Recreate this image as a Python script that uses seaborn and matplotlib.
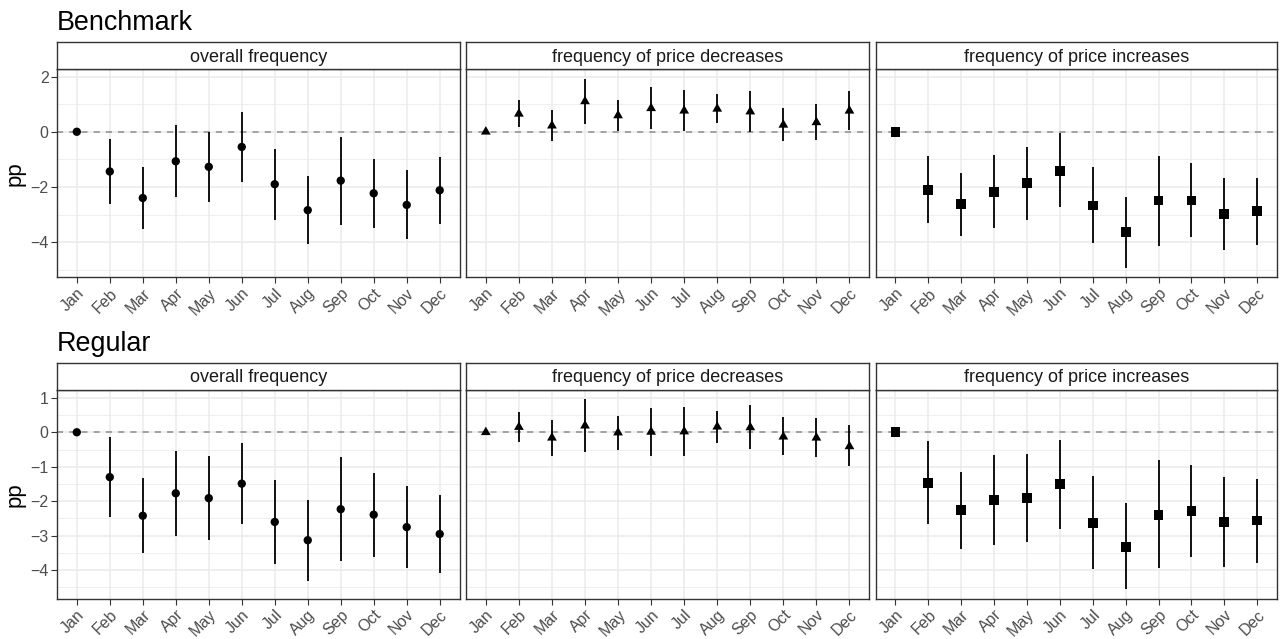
import numpy as np
import pandas as pd
import matplotlib
matplotlib.use("Agg")
import matplotlib.pyplot as plt
from matplotlib.ticker import MultipleLocator, FixedLocator
import seaborn as sns

months = ["Jan", "Feb", "Mar", "Apr", "May", "Jun",
          "Jul", "Aug", "Sep", "Oct", "Nov", "Dec"]
panels = ["overall frequency", "frequency of price decreases",
          "frequency of price increases"]
nan = np.nan

# Benchmark
bench_overall_est = [0, -1.44, -2.40, -1.07, -1.27, -0.55, -1.90, -2.84, -1.77, -2.23, -2.65, -2.12]
bench_overall_lo = [nan, -2.62, -3.53, -2.36, -2.55, -1.81, -3.20, -4.06, -3.37, -3.50, -3.88, -3.33]
bench_overall_hi = [nan, -0.26, -1.26, 0.24, 0.00, 0.71, -0.61, -1.59, -0.19, -0.97, -1.40, -0.92]

bench_dec_est = [0, 0.65, 0.22, 1.10, 0.59, 0.85, 0.76, 0.83, 0.73, 0.25, 0.34, 0.76]
bench_dec_lo = [nan, 0.18, -0.35, 0.28, 0.04, 0.10, 0.01, 0.30, -0.01, -0.35, -0.29, 0.08]
bench_dec_hi = [nan, 1.15, 0.80, 1.92, 1.16, 1.62, 1.52, 1.38, 1.49, 0.85, 0.99, 1.46]

bench_inc_est = [0, -2.10, -2.63, -2.17, -1.87, -1.41, -2.67, -3.63, -2.49, -2.49, -2.99, -2.87]
bench_inc_lo = [nan, -3.32, -3.76, -3.50, -3.21, -2.74, -4.04, -4.93, -4.13, -3.83, -4.30, -4.12]
bench_inc_hi = [nan, -0.89, -1.49, -0.84, -0.56, -0.06, -1.28, -2.37, -0.89, -1.14, -1.68, -1.66]

# Regular
reg_overall_est = [0, -1.30, -2.42, -1.77, -1.91, -1.49, -2.60, -3.13, -2.23, -2.39, -2.75, -2.95]
reg_overall_lo = [nan, -2.45, -3.49, -3.00, -3.12, -2.66, -3.82, -4.30, -3.73, -3.62, -3.94, -4.09]
reg_overall_hi = [nan, -0.14, -1.34, -0.54, -0.70, -0.31, -1.37, -1.95, -0.73, -1.17, -1.56, -1.82]

reg_dec_est = [0, 0.15, -0.16, 0.19, -0.01, 0.01, 0.02, 0.16, 0.14, -0.13, -0.16, -0.41]
reg_dec_lo = [nan, -0.27, -0.69, -0.57, -0.50, -0.68, -0.70, -0.30, -0.48, -0.66, -0.73, -0.99]
reg_dec_hi = [nan, 0.58, 0.36, 0.95, 0.47, 0.70, 0.74, 0.63, 0.78, 0.43, 0.40, 0.21]

reg_inc_est = [0, -1.47, -2.25, -1.96, -1.90, -1.50, -2.63, -3.32, -2.39, -2.28, -2.60, -2.56]
reg_inc_lo = [nan, -2.65, -3.37, -3.27, -3.19, -2.81, -3.97, -4.55, -3.94, -3.62, -3.90, -3.78]
reg_inc_hi = [nan, -0.26, -1.15, -0.66, -0.62, -0.21, -1.28, -2.05, -0.81, -0.95, -1.31, -1.36]


def frame(est, lo, hi):
    return pd.DataFrame({"month": months, "pos": np.arange(len(months)),
                         "est": est, "lo": lo, "hi": hi})


groups = [
    ("Benchmark", [frame(bench_overall_est, bench_overall_lo, bench_overall_hi),
                   frame(bench_dec_est, bench_dec_lo, bench_dec_hi),
                   frame(bench_inc_est, bench_inc_lo, bench_inc_hi)], 2, 1),
    ("Regular", [frame(reg_overall_est, reg_overall_lo, reg_overall_hi),
                 frame(reg_dec_est, reg_dec_lo, reg_dec_hi),
                 frame(reg_inc_est, reg_inc_lo, reg_inc_hi)], 1, 0.5),
]

sns.set_theme(style="white")
plt.rcParams["font.family"] = ["Liberation Sans", "DejaVu Sans"]

W, H = 1280, 639
fig = plt.figure(figsize=(W / 100, H / 100), dpi=100)
fig.patch.set_facecolor("white")


def rect(x0, y0, x1, y1):
    return [x0 / W, 1 - y1 / H, (x1 - x0) / W, (y1 - y0) / H]


# triangle centred on its centroid, as in R's filled triangle symbol
tri = [(0, 1.555), (-1.347, -0.778), (1.347, -0.778), (0, 1.555)]
markers = [("o", 36), (tri, 66), ("s", 50)]

col_x = [(57, 459.5), (466, 869.3), (875.7, 1277)]
row_y = [(42, 69.3, 277.3, 30), (363, 390, 598.7, 351)]

border = "#333333"
gridc = "#EBEBEB"
tick_fs = 11.5

for r, (title, frames, major, minor) in enumerate(groups):
    s_top, p_top, p_bot, title_base = row_y[r]
    lows = np.concatenate([np.nan_to_num(f["lo"].values, nan=0) for f in frames])
    highs = np.concatenate([np.nan_to_num(f["hi"].values, nan=0) for f in frames])
    lows = np.minimum(lows, np.concatenate([f["est"].values for f in frames]))
    dmin, dmax = lows.min(), highs.max()
    pad = 0.05 * (dmax - dmin)
    ylim = (dmin - pad, dmax + pad)

    fig.text(57 / W, 1 - title_base / H, title, fontsize=19.4,
             color="black", ha="left", va="baseline")
    fig.text(15.5 / W, 1 - ((p_top + p_bot) / 2) / H, "pp", fontsize=16,
             rotation=90, ha="center", va="center", color="black")

    for c, df in enumerate(frames):
        x0, x1 = col_x[c]
        ax = fig.add_axes(rect(x0, p_top, x1, p_bot))
        ax.set_facecolor("white")
        ax.set_xlim(-0.6, len(months) - 0.4)
        ax.set_ylim(*ylim)
        ax.yaxis.set_major_locator(MultipleLocator(major))
        ax.yaxis.set_minor_locator(MultipleLocator(minor))
        ax.xaxis.set_major_locator(FixedLocator(df["pos"].values))
        ax.grid(True, which="major", color=gridc, lw=1.1, zorder=0)
        ax.grid(True, which="minor", axis="y", color=gridc, lw=0.55, zorder=0)
        ax.set_axisbelow(True)

        ax.axhline(0, color="#8C8C8C", lw=1.1, dashes=(4, 4), zorder=1)
        ax.vlines(df["pos"], df["lo"], df["hi"], color="black", lw=1.3, zorder=2)
        mk, sz = markers[c]
        sns.scatterplot(data=df, x="pos", y="est", ax=ax, marker=mk, s=sz,
                        color="black", edgecolor="none", linewidth=0,
                        zorder=3, legend=False)

        ax.set_xlabel("")
        ax.set_ylabel("")
        ax.set_xticks(df["pos"].values)
        ax.set_xticklabels(df["month"], rotation=45, ha="right", va="top",
                           rotation_mode="anchor", fontsize=tick_fs, color="#4D4D4D")
        ax.tick_params(axis="both", which="major", length=4, width=0.8,
                       color=border, pad=2, labelsize=tick_fs, labelcolor="#4D4D4D",
                       bottom=True, left=(c == 0))
        ax.tick_params(axis="y", which="minor", length=0)
        if c != 0:
            ax.set_yticklabels([])
        for sp in ax.spines.values():
            sp.set_color(border)
            sp.set_linewidth(1.0)
            sp.set_visible(True)

        # facet strip
        sax = fig.add_axes(rect(x0, s_top, x1, p_top))
        sax.set_facecolor("white")
        sax.set_xticks([])
        sax.set_yticks([])
        for sp in sax.spines.values():
            sp.set_color(border)
            sp.set_linewidth(1.0)
            sp.set_visible(True)
        sax.text(0.5, 0.45, panels[c], transform=sax.transAxes, ha="center",
                 va="center", fontsize=13, color="#1A1A1A")

fig.savefig("out.png", dpi=100, facecolor="white")
